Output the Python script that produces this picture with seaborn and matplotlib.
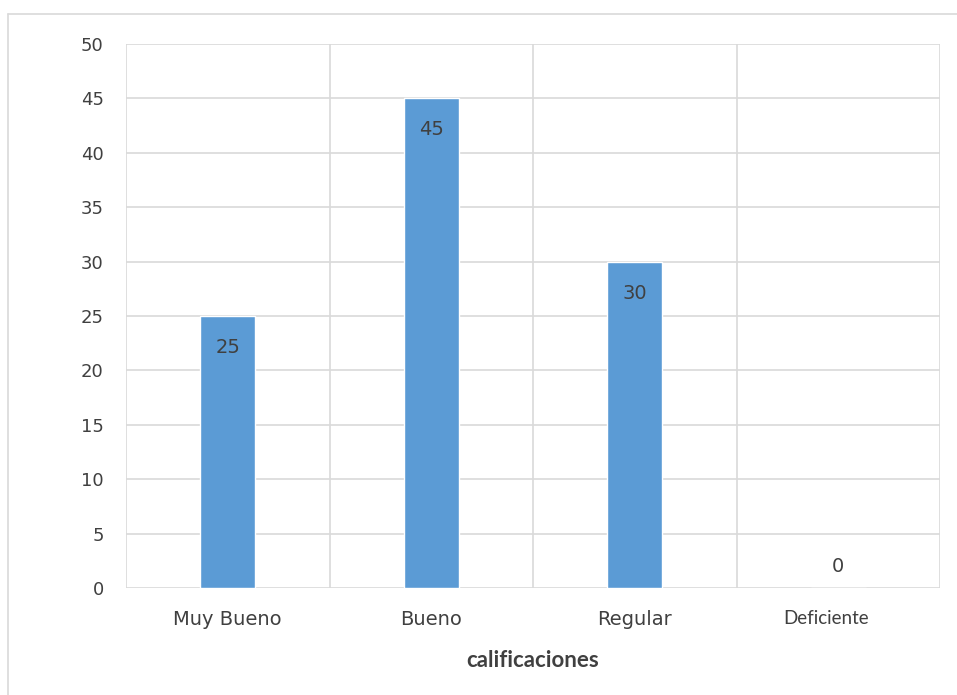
import matplotlib
matplotlib.use("Agg")
import matplotlib.pyplot as plt
import matplotlib.transforms as mtransforms
from matplotlib.lines import Line2D
import seaborn as sns
import pandas as pd

categorias = ["Muy Bueno", "Bueno", "Regular", "Deficiente"]
valores = [25, 45, 30, 0]
ticks_y = [0, 5, 10, 15, 20, 25, 30, 35, 40, 45, 50]

df = pd.DataFrame({"calificaciones": categorias, "valor": valores})

sns.set_theme(style="white")
plt.rcParams["font.family"] = ["DejaVu Sans"]

fig = plt.figure(figsize=(9.57, 6.95), dpi=100)
ax = fig.add_axes([126 / 957, 1 - 588 / 695, (940 - 126) / 957, (588 - 44) / 695])

bar_color = "#5b9bd5"
sns.barplot(data=df, x="calificaciones", y="valor", color=bar_color,
            width=0.27, saturation=1, ax=ax, zorder=3)

ax.set_xlim(-0.5, len(categorias) - 0.5)
ax.set_ylim(0, 50)
ax.set_yticks(ticks_y)
ax.set_yticklabels([str(t) for t in ticks_y])

grid_c = "#d9d9d9"
for t in ticks_y:
    ax.axhline(t, color=grid_c, lw=1.2, zorder=1)
for i in range(len(categorias) + 1):
    ax.axvline(i - 0.5, color=grid_c, lw=1.2, zorder=1)
for s in ax.spines.values():
    s.set_visible(False)

ax.tick_params(axis="y", length=0, pad=16, labelsize=13, labelcolor="#404040")
ax.tick_params(axis="x", length=0, pad=16, labelsize=14, labelcolor="#404040")
for lbl in ax.get_xticklabels():
    if lbl.get_text() == "Deficiente":
        lbl.set_fontsize(13.5)
        lbl.set_fontfamily(["Lato", "DejaVu Sans"])
        lbl.set_transform(lbl.get_transform() +
                          mtransforms.ScaledTranslation(-0.12, 0, fig.dpi_scale_trans))

ax.set_xlabel("calificaciones", fontsize=16, fontweight="bold", color="#404040",
              family=["Lato", "DejaVu Sans"], labelpad=15)
ax.set_ylabel("")

# value labels just inside the top of each bar
for i, v in enumerate(valores):
    y = v - 2.9 if v > 4 else v + 2.0
    ax.text(i, y, str(v), ha="center", va="center", fontsize=14, color="#404040", zorder=4)

# frame lines along the top and left of the figure
fig.add_artist(Line2D([8 / 957, 1], [1 - 14 / 695, 1 - 14 / 695], transform=fig.transFigure,
                      color="#d9d9d9", lw=1.2))
fig.add_artist(Line2D([8 / 957, 8 / 957], [0, 1 - 14 / 695], transform=fig.transFigure,
                      color="#d9d9d9", lw=1.2))

fig.savefig("out.png", dpi=100)
